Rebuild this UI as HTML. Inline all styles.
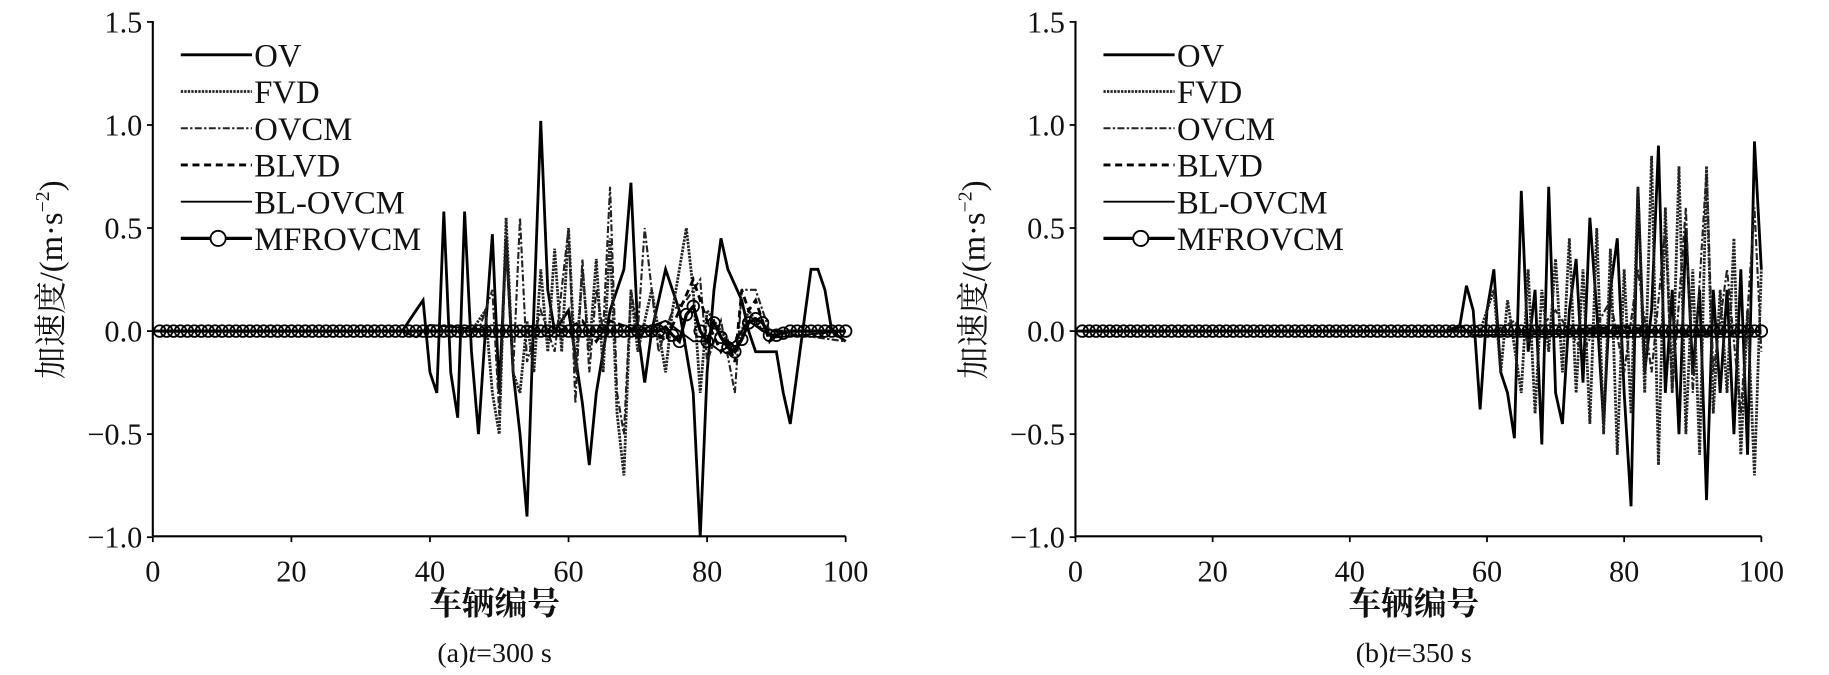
<!DOCTYPE html>
<html><head><meta charset="utf-8"><style>
body{margin:0;background:#fff}
svg{display:block}
svg text{font-family:"Liberation Serif","Noto Serif CJK SC",serif;fill:#111}
</style></head><body>
<svg id="s" width="1829" height="675" viewBox="0 0 1568 579" preserveAspectRatio="none" xmlns="http://www.w3.org/2000/svg"></svg>
<script>
const S=document.getElementById('s');let h='';
function panel(X0,X1,data,label){
 const Y0=460,Y1=18;
 const px=v=>X0+v*(X1-X0)/100, py=a=>284-a*176.8;
 h+=`<line x1="${X0}" y1="${Y1}" x2="${X0}" y2="${Y0}" stroke="#000" stroke-width="1.8"/>`;
 h+=`<line x1="${X0}" y1="${Y0}" x2="${X1}" y2="${Y0}" stroke="#000" stroke-width="1.8"/>`;
 for(let k=0;k<=5;k++){const v=k*20;h+=`<line x1="${px(v)}" y1="${Y0}" x2="${px(v)}" y2="${Y0+5}" stroke="#000" stroke-width="1.5"/><text x="${px(v)}" y="499" font-size="26" text-anchor="middle">${v}</text>`;}
 [-1,-0.5,0,0.5,1,1.5].forEach(a=>{h+=`<line x1="${X0}" y1="${py(a)}" x2="${X0-5}" y2="${py(a)}" stroke="#000" stroke-width="1.5"/><text x="${X0-9}" y="${py(a)+9}" font-size="26" text-anchor="end">${a<0?'\u2212':''}${Math.abs(a).toFixed(1)}</text>`;});
 h+=`<text x="${X0+(X1-X0)/2-4}" y="527" font-size="28" text-anchor="middle" font-family="Noto Sans CJK SC" font-weight="bold">车辆编号</text>`;
 h+=`<text x="${X0+(X1-X0)/2-4}" y="568" font-size="24" text-anchor="middle">${label}</text>`;
 h+=`<text transform="translate(${X0-78},240) rotate(-90)" font-size="28" text-anchor="middle" font-family="Noto Sans CJK SC">加速度/(m·s<tspan dy="-11" font-size="17">−2</tspan><tspan dy="11">)</tspan></text>`;
 const styles=[['#000',2.4,''],['#222',2.4,'2,1'],['#222',1.8,'6,2,2,2'],['#000',2.4,'6,4'],['#000',1.6,'']];
 data.slice(0,5).forEach((d,i)=>{const pts=d.map(p=>px(p[0]).toFixed(1)+','+py(p[1]).toFixed(1)).join(' ');
  h+=`<polyline points="${pts}" fill="none" stroke="${styles[i][0]}" stroke-width="${styles[i][1]}" stroke-dasharray="${styles[i][2]}"/>`;});
 let m=data[5];let pts=m.map(p=>px(p[0]).toFixed(1)+','+py(p[1]).toFixed(1)).join(' ');
 h+=`<polyline points="${pts}" fill="none" stroke="#000" stroke-width="2.8"/>`;
 m.forEach(p=>{h+=`<circle cx="${px(p[0])}" cy="${py(p[1])}" r="5" fill="none" stroke="#000" stroke-width="1.5"/>`;});
 const names=['OV','FVD','OVCM','BLVD','BL-OVCM','MFROVCM'];
 names.forEach((n,i)=>{const y=47+i*31.5;const st=i<5?styles[i]:['#000',2.8,''];
  h+=`<line x1="${X0+24}" y1="${y}" x2="${X0+85}" y2="${y}" stroke="${st[0]}" stroke-width="${st[1]}" stroke-dasharray="${st[2]}"/>`;
  if(i==5)h+=`<circle cx="${X0+56}" cy="${y}" r="6.5" fill="#fff" stroke="#000" stroke-width="1.6"/>`;
  h+=`<text x="${X0+87}" y="${y+10}" font-size="28">${n}</text>`;});
}
function ser(start,arr){const d=[];for(let v=0;v<start;v++)d.push([v,0]);arr.forEach(p=>d.push(p));return d;}
const OVa=ser(37,[[38,0.1],[39,0.15],[40,-0.2],[41,-0.3],[42,0.58],[43,-0.2],[44,-0.42],[45,0.58],[46,-0.1],[47,-0.5],[48,0],[49,0.47],[50,-0.3],[51,0.45],[52,-0.2],[53,-0.5],[54,-0.9],[55,0.1],[56,1.02],[57,0.2],[58,0],[60,0.1],[62,-0.35],[63,-0.65],[64,-0.3],[66,0.1],[68,0.3],[69,0.72],[70,0],[71,-0.25],[72,0],[74,0.3],[76,0.1],[78,-0.3],[79,-1.0],[80,-0.2],[81,0.2],[82,0.45],[83,0.3],[85,0.15],[86,0],[87,-0.1],[90,-0.1],[91,-0.3],[92,-0.45],[93,-0.2],[95,0.3],[96,0.3],[97,0.2],[98,0],[100,-0.05]]);
const FVa=ser(47,[[48,0.1],[49,-0.3],[50,-0.5],[51,0.55],[52,-0.2],[53,-0.3],[54,0.05],[55,-0.2],[56,0.3],[57,-0.1],[58,0.4],[59,-0.1],[60,0.5],[61,-0.2],[62,0.3],[63,-0.1],[64,0.35],[65,-0.2],[66,0.45],[67,-0.4],[68,-0.7],[69,0.2],[70,-0.1],[72,0.2],[74,-0.2],[75,0.1],[77,0.5],[78,0.2],[79,-0.3],[80,0.1],[82,0],[84,-0.1],[86,0.1],[88,0],[100,0]]);
const OCa=ser(48,[[49,0.2],[50,-0.4],[51,0.4],[52,-0.2],[53,0.55],[54,-0.15],[56,0.1],[58,-0.1],[60,0.5],[61,-0.35],[62,0.35],[63,-0.2],[64,0.2],[65,0],[66,0.7],[67,-0.3],[68,-0.5],[69,0.2],[70,0],[71,0.5],[72,0.2],[73,-0.1],[75,0.1],[77,0.15],[79,0.25],[80,-0.15],[82,0.05],[84,-0.3],[85,0.2],[87,0.2],[89,0],[100,-0.05]]);
const BLa=ser(60,[[62,0.05],[64,-0.05],[66,0.05],[70,0],[72,0.02],[74,-0.05],[76,0.1],[78,0.25],[80,0.05],[82,-0.1],[83,-0.05],[84,-0.15],[85,0.2],[86,0.1],[87,0.15],[88,0.05],[89,-0.05],[90,0],[100,0]]);
const BOa=ser(37,[[38,-0.03],[40,0.03],[50,0],[70,0],[74,0.05],[76,0],[78,-0.05],[80,-0.05],[82,-0.1],[84,-0.05],[86,0.05],[88,0],[90,-0.03],[100,0]]);
const MFa=[];for(let v=1;v<=100;v++){let a=0;const t={74:0.02,75:-0.02,76:-0.05,77:0.08,78:0.12,79:0.0,80:-0.05,81:0.04,82:-0.03,83:-0.08,84:-0.1,85:-0.04,86:0.04,87:0.06,88:0.04,89:-0.02,90:-0.02,91:-0.01};if(t[v]!==undefined)a=t[v];MFa.push([v,a]);}
panel(131,725,[OVa,FVa,OCa,BLa,BOa,MFa],'(a)<tspan font-style="italic">t</tspan>=300 s');
const OVb=ser(55,[[56,0.02],[57,0.22],[58,0.1],[59,-0.38],[60,0.1],[61,0.3],[62,-0.2],[63,-0.3],[64,-0.52],[65,0.68],[66,-0.1],[67,0.2],[68,-0.55],[69,0.7],[70,-0.3],[71,-0.45],[72,0.1],[73,0.35],[74,-0.25],[75,0.55],[76,0.1],[77,-0.45],[78,0.2],[79,0.45],[80,-0.3],[81,-0.85],[82,0.7],[83,-0.2],[84,0.1],[85,0.9],[86,-0.3],[87,0.2],[88,-0.5],[89,0.5],[90,-0.2],[91,0.2],[92,-0.82],[93,0.2],[94,-0.3],[95,0.2],[96,-0.5],[97,0.3],[98,-0.6],[99,0.92],[100,0.3]]);
const FVb=ser(60,[[61,0.2],[62,-0.2],[63,0.15],[65,-0.3],[66,0.3],[67,-0.4],[68,0.2],[69,-0.1],[70,0.35],[71,-0.2],[72,0.45],[73,-0.3],[74,0.3],[75,-0.45],[76,0.5],[77,-0.5],[78,0.4],[79,-0.6],[80,0.3],[81,-0.4],[82,0.7],[83,-0.3],[84,0.85],[85,-0.65],[86,0.6],[87,-0.3],[88,0.8],[89,-0.5],[90,0.3],[91,-0.6],[92,0.8],[93,-0.4],[94,0.2],[95,-0.3],[96,0.45],[97,-0.6],[98,0.1],[99,-0.7],[100,0.3]]);
const OCb=ser(62,[[64,0.05],[66,-0.05],[70,0.1],[74,-0.1],[78,0.15],[80,-0.2],[82,0.3],[84,-0.2],[86,0.5],[87,-0.3],[89,0.6],[90,-0.3],[92,0.78],[93,-0.2],[95,0.3],[97,-0.4],[99,0.6],[100,-0.1]]);
const BLb=ser(70,[[80,0.02],[90,-0.02],[100,0]]);
const BOb=ser(55,[[56,0.03],[58,-0.02],[100,0]]);
const MFb=[];for(let v=1;v<=100;v++)MFb.push([v,0]);
panel(922,1510,[OVb,FVb,OCb,BLb,BOb,MFb],'(b)<tspan font-style="italic">t</tspan>=350 s');
S.innerHTML=h;
</script>
</body></html>
